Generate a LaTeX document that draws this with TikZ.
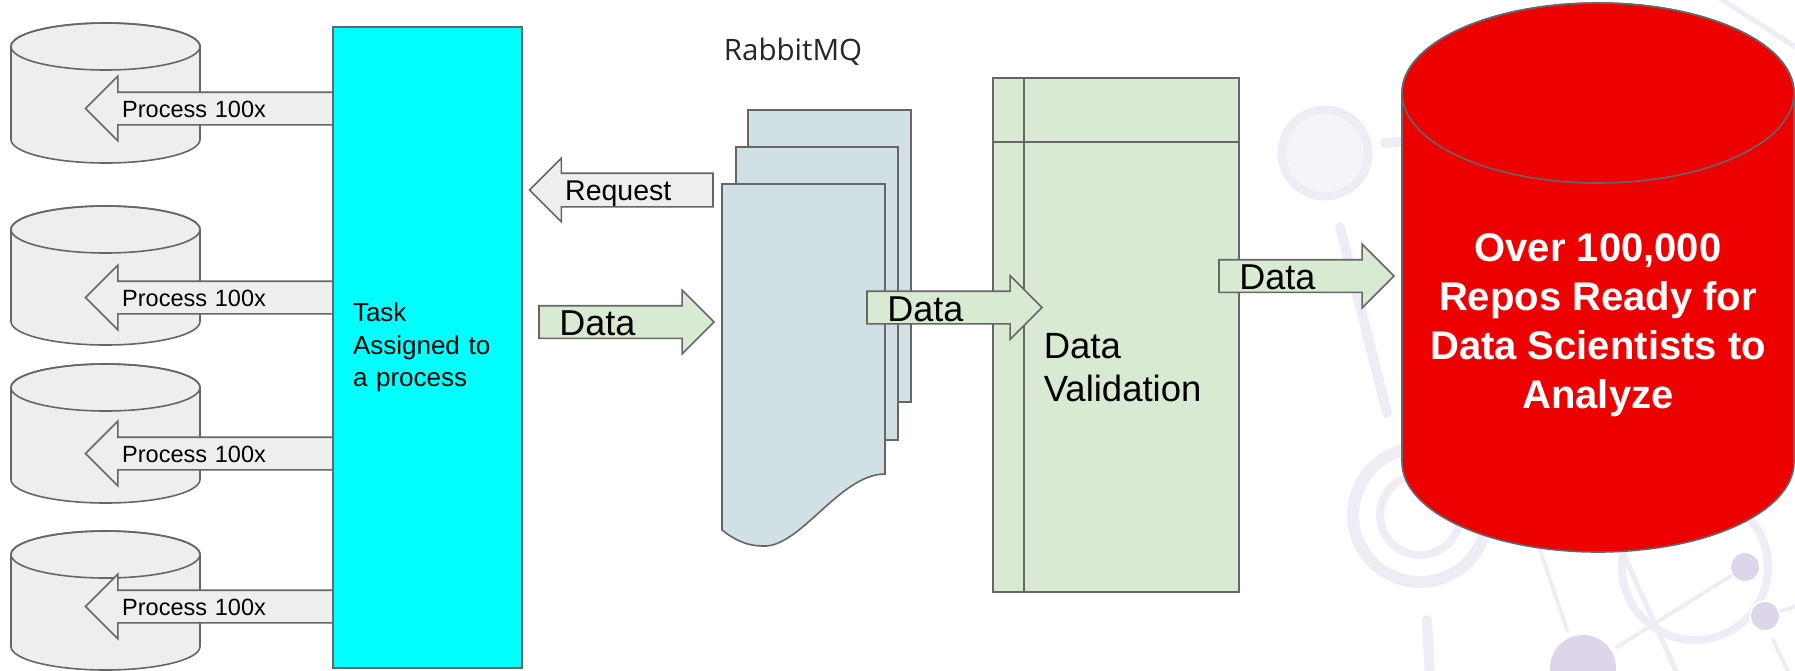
\documentclass[tikz,border=0pt]{standalone}
\usepackage{fontspec}
\setmainfont{Liberation Sans}
\newfontfamily\queuefont{Open Sans}
\usetikzlibrary{
    calc,
    positioning,
    shapes.arrows,
    shapes.geometric
}
\definecolor{edgegrey}{HTML}{666666}
\definecolor{procgrey}{HTML}{EEEEEE}
\definecolor{taskcyan}{HTML}{00FFFF}
\definecolor{datagreen}{HTML}{D9EAD3}
\definecolor{queueblue}{HTML}{D0E0E3}
\definecolor{reposred}{HTML}{EC0000}
\definecolor{wmring}{HTML}{EFECF5}
\definecolor{wmfill}{HTML}{F6F4F9}
\definecolor{wmdot}{HTML}{DDD6EA}
\tikzset{
    every picture/.style = {
        x = 1pt,
        y = -1pt,
        line width = 1.6pt
    },
    outlined/.style = {
        draw = edgegrey,
        line width = 1.6pt,
        outer sep = 0pt
    },
    store/.style = {
        outlined,
        fill = procgrey
    },
    reposdb/.style = {
        outlined,
        fill = reposred
    },
    taskbox/.style = {
        outlined,
        rectangle,
        fill = taskcyan,
        anchor = north west,
        minimum width = 189pt,
        minimum height = 641pt,
        text width = 149pt,
        inner xsep = 20pt,
        align = left,
        font = \fontsize{26}{32.5}\selectfont
    },
    validbox/.style = {
        outlined,
        rectangle,
        fill = datagreen,
        anchor = north west,
        minimum width = 246pt,
        minimum height = 514pt
    },
    blockarrow/.style = {
        outlined,
        single arrow,
        single arrow tip angle = 90,
        inner ysep = 0pt,
        align = left,
        anchor = tail
    },
    procarrow/.style = {
        blockarrow,
        fill = procgrey,
        shape border rotate = 180,
        single arrow head extend = 16pt,
        text width = 190.5pt,
        text height = 24pt,
        text depth = 7pt,
        inner xsep = 19.5pt,
        font = \fontsize{23.5}{28}\selectfont
    },
    reqarrow/.style = {
        blockarrow,
        fill = procgrey,
        shape border rotate = 180,
        single arrow head extend = 15pt,
        text width = 129pt,
        text height = 26pt,
        text depth = 6pt,
        inner xsep = 18pt,
        font = \fontsize{28.5}{34}\selectfont
    },
    dataarrow/.style = {
        blockarrow,
        fill = datagreen,
        single arrow head extend = 15.5pt,
        text width = 118pt,
        text height = 29pt,
        text depth = 2pt,
        inner xsep = 19.5pt,
        font = \fontsize{36}{43}\selectfont
    },
    queuelabel/.style = {
        anchor = base,
        inner sep = 0pt,
        text = black!85,
        font = \queuefont\fontsize{29.5}{35}\selectfont
    },
    validlabel/.style = {
        anchor = west,
        inner sep = 0pt,
        align = left,
        font = \fontsize{36.5}{43}\selectfont
    },
    reposlabel/.style = {
        inner sep = 0pt,
        align = center,
        text = white,
        font = \bfseries\fontsize{40}{49}\selectfont
    },
    watermark/.style = {
        draw = wmring,
        line cap = round
    }
}
\begin{document}
\begin{tikzpicture}
    \useasboundingbox (0,0) rectangle (1795,670);

    % faint background pattern
    \fill[wmfill] (1325,153) circle (38);
    \draw[watermark, line width = 9pt] (1325,153) circle (43);
    \draw[watermark, line width = 10pt] (1385,143) -- (1410,141);
    \draw[watermark, line width = 10pt] (1340,227) -- (1387,413);
    \draw[watermark, line width = 12pt] (1420,515) circle (67);
    \draw[watermark, line width = 8pt] (1420,515) circle (40);
    \draw[watermark, line width = 10pt] (1427,620) -- (1430,680);
    \draw[watermark, line width = 4pt] (1540,550) -- (1567,630);
    \draw[watermark, line width = 8pt] (1695,567) circle (73);
    \draw[watermark, line width = 5pt] (1623,553) -- (1680,680);
    \draw[watermark, line width = 4pt] (1617,647) -- (1745,567);
    \draw[watermark, line width = 4pt] (1773,640) -- (1792,680);
    \draw[watermark, line width = 4pt] (1765,616) -- (1800,605);
    \draw[watermark, line width = 5pt] (1715,-5) -- (1800,50);
    \fill[wmdot] (1583,668) circle (33);
    \draw[white, fill = wmdot, line width = 2pt] (1745,567) circle (15);
    \draw[white, fill = wmdot, line width = 2pt] (1765,616) circle (15);

    % workers
    \draw[store] (11,46.5) -- (11,139.5) arc[start angle = 180, end angle = 360, x radius = 94.5pt, y radius = 23.5pt]
        -- (200,46.5) arc[start angle = 0, end angle = 180, x radius = 94.5pt, y radius = 23.5pt] -- cycle;
    \draw[outlined] (105.5,46.5) ellipse [x radius = 94.5pt, y radius = 23.5pt];
    \draw[store] (11,229.5) -- (11,321.5) arc[start angle = 180, end angle = 360, x radius = 94.5pt, y radius = 23.5pt]
        -- (200,229.5) arc[start angle = 0, end angle = 180, x radius = 94.5pt, y radius = 23.5pt] -- cycle;
    \draw[outlined] (105.5,229.5) ellipse [x radius = 94.5pt, y radius = 23.5pt];
    \draw[store] (11,387.5) -- (11,479.5) arc[start angle = 180, end angle = 360, x radius = 94.5pt, y radius = 23.5pt]
        -- (200,387.5) arc[start angle = 0, end angle = 180, x radius = 94.5pt, y radius = 23.5pt] -- cycle;
    \draw[outlined] (105.5,387.5) ellipse [x radius = 94.5pt, y radius = 23.5pt];
    \draw[store] (11,554.5) -- (11,646.5) arc[start angle = 180, end angle = 360, x radius = 94.5pt, y radius = 23.5pt]
        -- (200,554.5) arc[start angle = 0, end angle = 180, x radius = 94.5pt, y radius = 23.5pt] -- cycle;
    \draw[outlined] (105.5,554.5) ellipse [x radius = 94.5pt, y radius = 23.5pt];

    % dispatcher
    \node[taskbox] (task) at (333,27) {Task\\Assigned to\\a process};
    \node[procarrow] (proc1) at (task.west |- 0,108.5) {Process 100x};
    \node[procarrow] (proc2) at (task.west |- 0,297.5) {Process 100x};
    \node[procarrow] (proc3) at (task.west |- 0,453.5) {Process 100x};
    \node[procarrow] (proc4) at (task.west |- 0,606.5) {Process 100x};

    % queue
    \node[queuelabel] (rabbit) at (793,60) {RabbitMQ};
    \draw[outlined, fill = queueblue] (748,110) rectangle (911,402);
    \draw[outlined, fill = queueblue] (736,147) rectangle (898,440);
    \draw[outlined, fill = queueblue] (722,184) -- (885,184) -- (885,474)
        .. controls (840,474) and (800,548) .. (763,546)
        .. controls (745,546) and (732,538) .. (722,530) -- cycle;
    \node[reqarrow] (request) at (713,190) {Request};
    \node[dataarrow] (data1) at (539,322) {Data};

    % validation
    \node[validbox] (valid) at (993,78) {};
    \draw[outlined] ([xshift = 31pt]valid.north west) -- ([xshift = 31pt]valid.south west);
    \draw[outlined] ([yshift = -64pt]valid.north west) -- ([yshift = -64pt]valid.north east);
    \node[validlabel] (validtext) at (1043,367.5) {Data\\Validation};
    \node[dataarrow] (data2) at (867,307.5) {Data};

    % result
    \draw[reposdb] (1402,93) -- (1402,462) arc[start angle = 180, end angle = 360, x radius = 196pt, y radius = 90pt]
        -- (1794,93) arc[start angle = 0, end angle = 180, x radius = 196pt, y radius = 90pt] -- cycle;
    \draw[outlined] (1598,93) ellipse [x radius = 196pt, y radius = 90pt];
    \node[reposlabel] (repos) at (1598,325.5) {Over 100,000\\Repos Ready for\\Data Scientists to\\Analyze};
    \node[dataarrow] (data3) at (1219,276) {Data};
\end{tikzpicture}
\end{document}
